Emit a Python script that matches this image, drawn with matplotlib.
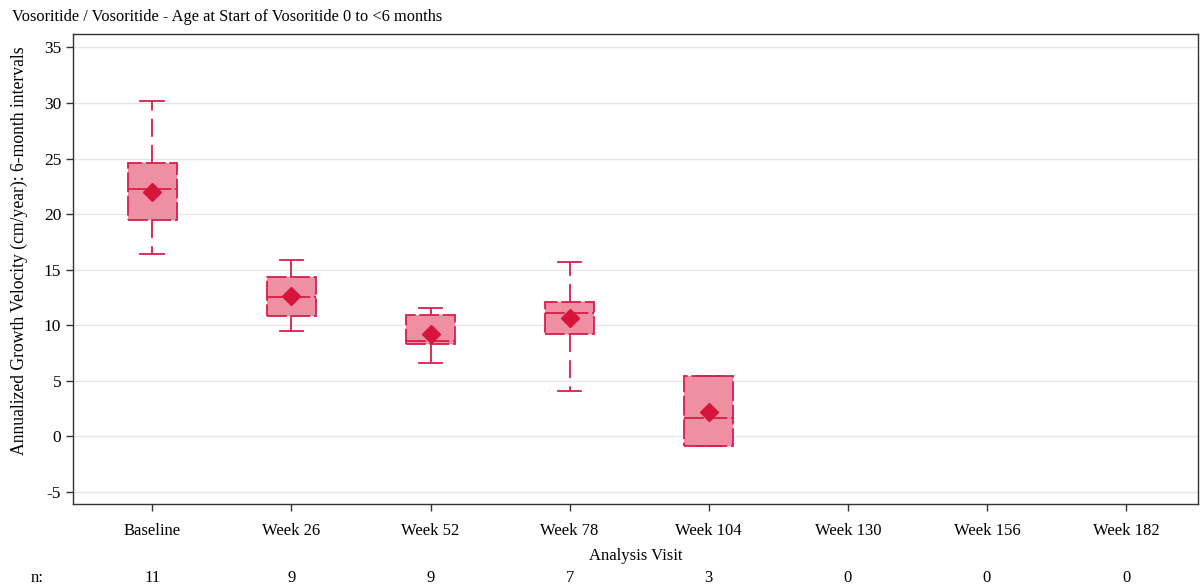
import matplotlib
matplotlib.use("Agg")
import matplotlib.pyplot as plt

plt.rcParams['font.family'] = ['Liberation Serif', 'DejaVu Serif']

visits = ["Baseline", "Week 26", "Week 52", "Week 78", "Week 104",
          "Week 130", "Week 156", "Week 182"]
n_counts = [11, 9, 9, 7, 3, 0, 0, 0]

# box statistics for visits with data (cm/year)
whisker_low = [16.4, 9.5, 6.6, 4.1, -0.9]
q1 = [19.5, 10.8, 8.3, 9.2, -0.9]
median = [22.3, 12.5, 8.6, 11.1, 1.6]
q3 = [24.6, 14.3, 10.9, 12.1, 5.4]
whisker_high = [30.2, 15.9, 11.5, 15.7, 5.4]
mean = [22.0, 12.6, 9.2, 10.6, 2.2]

yticks = [-5, 0, 5, 10, 15, 20, 25, 30, 35]

edge = "#D81E4B"
fill = "#EE8FA2"
box_dash = (0, (11, 2))
whisk_dash = (0, (10, 4.5))

fig = plt.figure(figsize=(12.01, 5.88), dpi=100)
ax = fig.add_axes([0.0608, 0.1429, 0.937, 0.799])

stats = []
for i in range(len(q1)):
    stats.append(dict(whislo=whisker_low[i], q1=q1[i], med=median[i],
                      q3=q3[i], whishi=whisker_high[i], mean=mean[i],
                      fliers=[]))

ax.bxp(stats, positions=list(range(len(q1))), widths=0.35,
       patch_artist=True, showmeans=True, showfliers=False,
       boxprops=dict(facecolor=fill, edgecolor=edge, linewidth=1.3,
                     linestyle=box_dash),
       medianprops=dict(color=edge, linewidth=1.3, linestyle=box_dash),
       whiskerprops=dict(color=edge, linewidth=1.3, linestyle=whisk_dash),
       capprops=dict(color=edge, linewidth=1.3),
       capwidths=0.17,
       meanprops=dict(marker="D", markerfacecolor="#D7143C",
                      markeredgecolor="#D7143C", markersize=9))

ax.set_xlim(-0.57, 7.52)
ax.set_ylim(-6.1, 36.2)
ax.set_yticks(yticks)
ax.set_yticklabels([str(t) for t in yticks], fontsize=12.5)
ax.set_xticks(range(len(visits)))
ax.set_xticklabels(visits, fontsize=12)
ax.tick_params(axis='both', direction='out', length=5, width=1, color='#333333')
ax.tick_params(axis='x', pad=9)
ax.grid(axis='y', color='#E6E6E6', linewidth=1)
ax.set_axisbelow(True)
for s in ax.spines.values():
    s.set_color('#333333')
    s.set_linewidth(1)

ax.set_xlabel("Analysis Visit", fontsize=12, labelpad=6)
ax.set_ylabel("Annualized Growth Velocity (cm/year): 6-month intervals",
              fontsize=12.7, labelpad=1)
ax.yaxis.set_label_coords(-0.040, 0.54)

fig.text(0.01, 0.985, "Vosoritide / Vosoritide - Age at Start of Vosoritide 0 to <6 months",
         fontsize=11.8, ha='left', va='top')

# patient counts row beneath the axis
n_y = 1 - 578 / 588
fig.text(37 / 1201, n_y, "n:", fontsize=12, ha='center', va='center')
for i, n in enumerate(n_counts):
    xd = ax.transData.transform((i, 0))[0]
    xf = fig.transFigure.inverted().transform((xd, 0))[0]
    fig.text(xf, n_y, str(n), fontsize=12, ha='center', va='center')

fig.savefig("out.png", dpi=100)
